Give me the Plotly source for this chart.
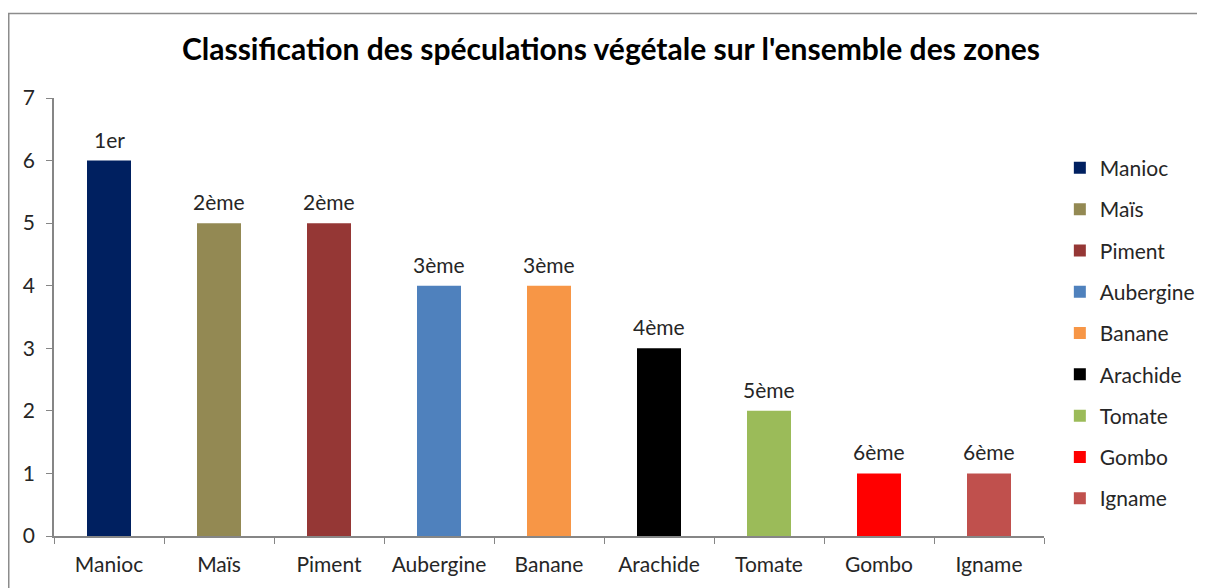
import plotly.graph_objects as go

categories = ["Manioc", "Maïs", "Piment", "Aubergine", "Banane", "Arachide", "Tomate", "Gombo", "Igname"]
values = [6, 5, 5, 4, 4, 3, 2, 1, 1]
rank_labels = ["1er", "2ème", "2ème", "3ème", "3ème", "4ème", "5ème", "6ème", "6ème"]
colors = ["#002060", "#938953", "#953735", "#4F81BD", "#F79646", "#000000", "#9BBB59", "#FF0000", "#C0504D"]
title_text = "Classification des spéculations végétale sur l'ensemble des zones"

FONT = "Lato"
TXT = "#262626"

fig = go.Figure()
for cat, val, col in zip(categories, values, colors):
    fig.add_trace(go.Bar(
        x=[cat], y=[val], name=cat, marker_color=col, width=0.4,
        legendgroup=cat, marker_line_width=0,
    ))

annotations = [
    dict(x=cat, y=val, text=lab, xref="x", yref="y", showarrow=False,
         yanchor="bottom", yshift=7, font=dict(family=FONT, size=21, color=TXT))
    for cat, val, lab in zip(categories, values, rank_labels)
]

fig.update_layout(
    width=1205, height=580,
    paper_bgcolor="white", plot_bgcolor="white",
    margin=dict(l=46, r=169, t=90, b=50),
    barmode="overlay",
    title=dict(text="<b>" + title_text + "</b>", x=0.5004, xref="container", xanchor="center",
               y=0.9276, yref="container", yanchor="middle",
               font=dict(family=FONT, size=30, color="#000000")),
    showlegend=True,
    legend=dict(x=1.016, xanchor="left", y=0.463, yanchor="middle",
                font=dict(family=FONT, size=21, color=TXT),
                tracegroupgap=11, itemwidth=30),
    annotations=annotations,
    xaxis=dict(categoryorder="array", categoryarray=categories,
               showline=True, linecolor="#868686", linewidth=1.5,
               ticks="outside", tickson="boundaries", ticklen=6, tickcolor="#868686",
               ticklabelstandoff=9,
               tickfont=dict(family=FONT, size=21, color=TXT),
               showgrid=False, zeroline=False),
    yaxis=dict(range=[0, 7], dtick=1, showline=True, linecolor="#868686", linewidth=1.5,
               ticks="outside", ticklen=6, tickcolor="#868686",
               ticklabelstandoff=7,
               tickfont=dict(family=FONT, size=21, color=TXT),
               showgrid=False, zeroline=False),
    shapes=[dict(type="rect", xref="paper", yref="paper",
                 x0=-0.0457, x1=1.3, y0=-0.3, y1=1.193,
                 line=dict(color="#8C8C8C", width=1.5), fillcolor="rgba(0,0,0,0)", layer="below")],
)

fig.write_html("out.html")
